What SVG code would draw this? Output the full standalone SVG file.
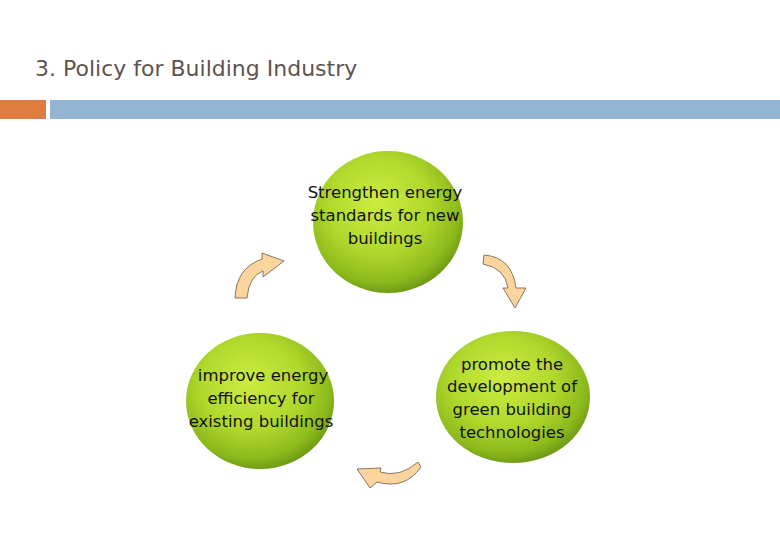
<svg xmlns="http://www.w3.org/2000/svg" width="780" height="540" viewBox="0 0 780 540">
<style>
.title{font-family:"DejaVu Sans","Verdana",sans-serif;font-size:22px;fill:#5e5450}
.lbl{font-family:"DejaVu Sans","Verdana",sans-serif;font-size:16.5px;fill:#111;text-anchor:middle}
.ball{fill:url(#g)}
.arr{fill:#fcd59e;stroke:#6a5a48;stroke-width:0.8}
</style>
<defs>
<radialGradient id="g" cx="0.45" cy="0.4" r="0.62" fx="0.42" fy="0.35">
<stop offset="0" stop-color="#cdec42"/>
<stop offset="0.55" stop-color="#b0d82c"/>
<stop offset="0.85" stop-color="#8cba1c"/>
<stop offset="1" stop-color="#6a9614"/>
</radialGradient>
</defs>
<rect width="780" height="540" fill="#fff"/>
<text class="title" x="35" y="76">3. Policy for Building Industry</text>
<rect x="0" y="100" width="46" height="19" fill="#e07c40"/>
<rect x="50" y="100" width="730" height="19" fill="#94b5d2"/>
<g id="node-top">
<ellipse class="ball" cx="388" cy="222" rx="75" ry="71"/>
<text class="lbl" x="385" y="198">Strengthen energy</text>
<text class="lbl" x="385" y="221">standards for new</text>
<text class="lbl" x="385" y="244">buildings</text>
</g>
<g id="node-left">
<ellipse class="ball" cx="260" cy="401" rx="74" ry="68"/>
<text class="lbl" x="263" y="381">improve energy</text>
<text class="lbl" x="261" y="404">efficiency for</text>
<text class="lbl" x="261" y="427">existing buildings</text>
</g>
<g id="node-right">
<ellipse class="ball" cx="513" cy="397" rx="77" ry="66"/>
<text class="lbl" x="512" y="370">promote the</text>
<text class="lbl" x="512" y="392">development of</text>
<text class="lbl" x="512" y="415">green building</text>
<text class="lbl" x="512" y="438">technologies</text>
</g>
<g id="connectors">
<path class="arr" d="M235,298 Q236,268 262,259 L262,253 L284,261 L263,277 L263,271 Q249,276 247,298 Z"/>
<path class="arr" d="M484,255 Q512,257 516,288 L526,288 L515,308 L503,288 L508,288 Q505,268 483,264 Z"/>
<path class="arr" d="M357,469 L381,468 L380,472 Q400,478 418,462 L421,467 Q405,490 377,482 L370,488 Z"/>
</g>
</svg>
